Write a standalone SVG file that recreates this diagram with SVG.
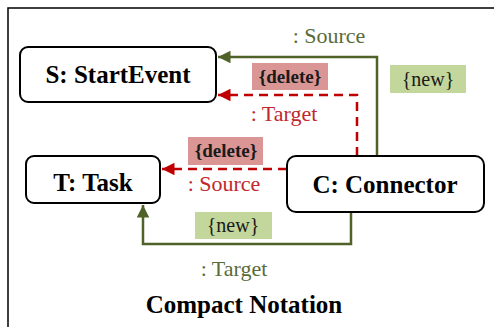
<svg xmlns="http://www.w3.org/2000/svg" width="494" height="327" viewBox="0 0 494 327">
<defs>
<style>
.node{fill:#fff;stroke:#000;stroke-width:2}
.nt{font-family:"Liberation Serif",serif;font-weight:bold;font-size:25px;fill:#000;text-anchor:middle}
.lbl{font-family:"Liberation Serif",serif;font-size:22px;text-anchor:middle}
.g{fill:#5a6b38}
.r{fill:#c0282d}
.del{fill:#d99694}
.new{fill:#c3d69b}
.tag{font-family:"Liberation Serif",serif;font-size:20px;text-anchor:middle;fill:#1a1a1a}
.dtag{font-family:"Liberation Serif",serif;font-size:19px;font-weight:bold;text-anchor:middle;fill:#1a1a1a}
.gl{fill:none;stroke:#4f6228;stroke-width:2.5}
.rl{fill:none;stroke:#c00000;stroke-width:2.5;stroke-dasharray:9 6}
</style>
<marker id="ag" viewBox="0 0 10 10" refX="10" refY="5" markerWidth="5" markerHeight="5" orient="auto" markerUnits="strokeWidth"><path d="M0,0L10,5L0,10z" fill="#4f6228"/></marker>
<marker id="ar" viewBox="0 0 10 10" refX="10" refY="5" markerWidth="5" markerHeight="5" orient="auto" markerUnits="strokeWidth"><path d="M0,0L10,5L0,10z" fill="#c00000"/></marker>
</defs>
<rect x="8" y="8" width="500" height="330" fill="#fff" stroke="#000" stroke-width="1.5"/>
<g id="connectors">
<path class="gl" d="M377,156V57H218" marker-end="url(#ag)"/>
<path class="rl" d="M357,156V95H218" marker-end="url(#ar)"/>
<path class="rl" d="M287,169H162" marker-end="url(#ar)"/>
<path class="gl" d="M351,212V244H143V205" marker-end="url(#ag)"/>
<text class="lbl g" x="329" y="43">: Source</text>
<rect class="new" x="390" y="65" width="76" height="28"/>
<text class="tag" x="428" y="86">{new}</text>
<rect class="del" x="252" y="63" width="76" height="27"/>
<text class="dtag" x="290" y="83">{delete}</text>
<text class="lbl r" x="284" y="121">: Target</text>
<rect class="del" x="188" y="137" width="75" height="28"/>
<text class="dtag" x="226" y="157">{delete}</text>
<text class="lbl r" x="224" y="191">: Source</text>
<rect class="new" x="195" y="212" width="77" height="27"/>
<text class="tag" x="233" y="232">{new}</text>
<text class="lbl g" x="234" y="276">: Target</text>
</g>
<g id="S"><rect class="node" x="20" y="47" width="196" height="55" rx="8"/><text class="nt" x="118" y="83">S: StartEvent</text></g>
<g id="T"><rect class="node" x="26" y="156" width="134" height="47" rx="8"/><text class="nt" x="93" y="191">T: Task</text></g>
<g id="C"><rect class="node" x="287" y="156" width="197" height="56" rx="9"/><text class="nt" x="385" y="193">C: Connector</text></g>
<text class="nt" x="244" y="313">Compact Notation</text>
</svg>
